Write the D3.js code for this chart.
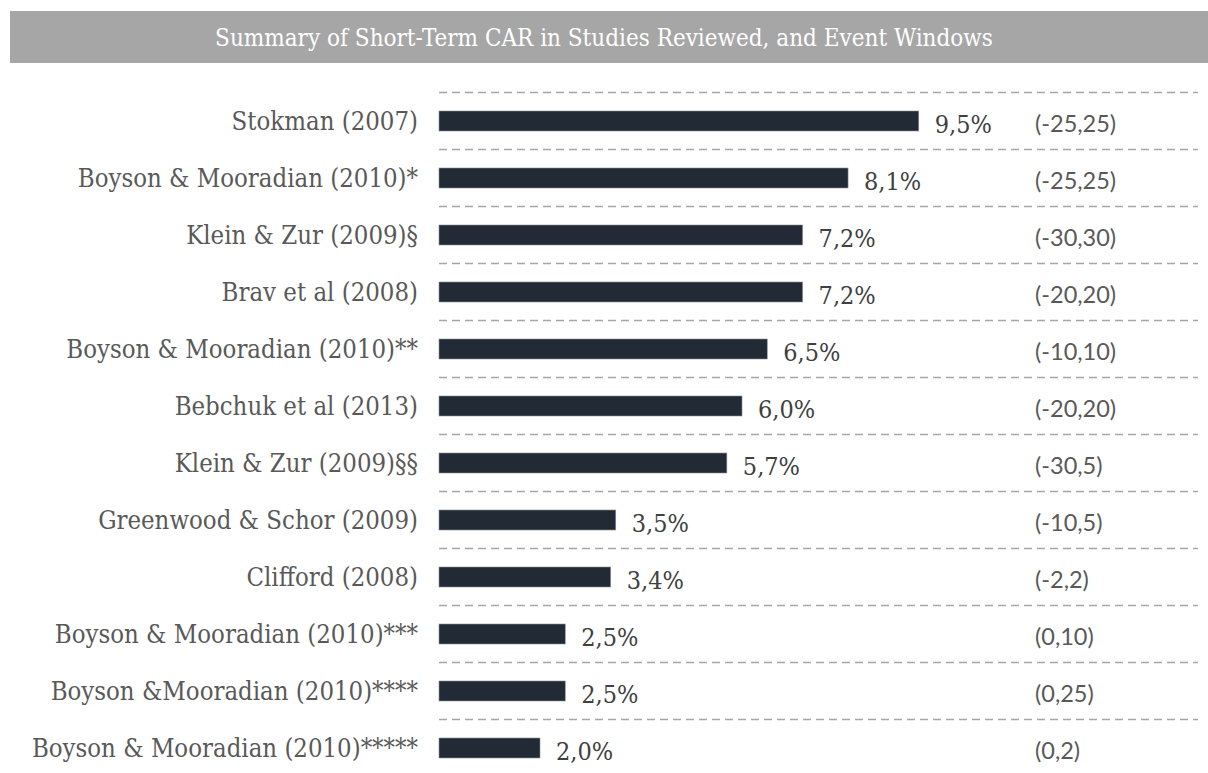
<!DOCTYPE html>
<html lang="en">
    <head>
        <meta charset="utf-8">
        <title>Summary of Short-Term CAR</title>
        <script type="text/javascript" src="https://d3js.org/d3.v7.min.js"></script>
        <style type="text/css">
            body { margin: 0; background: #fff; }
            .grid { stroke: #a6a6a6; stroke-width: 1.5; stroke-dasharray: 8,5; }
            .bar { fill: #222a35; stroke: #8a8f96; stroke-width: 0.6; }
            .serif { font-family: 'DejaVu Serif', serif; font-stretch: condensed; }
        </style>
    </head>
    <body>
        <div id="chart"></div>
        <script type="text/javascript">
            const studies = [
                "Stokman (2007)",
                "Boyson & Mooradian (2010)*",
                "Klein & Zur (2009)§",
                "Brav et al (2008)",
                "Boyson & Mooradian (2010)**",
                "Bebchuk et al (2013)",
                "Klein & Zur (2009)§§",
                "Greenwood & Schor (2009)",
                "Clifford (2008)",
                "Boyson & Mooradian (2010)***",
                "Boyson &Mooradian (2010)****",
                "Boyson & Mooradian (2010)*****"
            ];
            const car = [9.5, 8.1, 7.2, 7.2, 6.5, 6.0, 5.7, 3.5, 3.4, 2.5, 2.5, 2.0];
            const windows = ["(-25,25)", "(-25,25)", "(-30,30)", "(-20,20)", "(-10,10)", "(-20,20)",
                             "(-30,5)", "(-10,5)", "(-2,2)", "(0,10)", "(0,25)", "(0,2)"];
            const title = "Summary of Short-Term CAR in Studies Reviewed, and Event Windows";

            const W = 1208, H = 773;

            const svg = d3.select("#chart")
                .append("svg")
                .attr("width", W)
                .attr("height", H);

            // title band
            svg.append("rect")
                .attr("x", 10).attr("y", 11)
                .attr("width", W - 10).attr("height", 52)
                .attr("fill", "#a6a6a6");
            svg.append("text")
                .attr("class", "serif")
                .attr("x", 604).attr("y", 38)
                .attr("text-anchor", "middle")
                .attr("dominant-baseline", "central")
                .style("font-size", "24px")
                .attr("fill", "#fff")
                .text(title);

            const yScale = d3.scaleBand()
                .domain(studies)
                .range([92.5, 92.5 + 57 * studies.length]);
            const xScale = d3.scaleLinear()
                .domain([0, 10])
                .range([439, 944]);

            const rows = svg.append("g")
                .selectAll("g")
                .data(studies.map((s, i) => ({name: s, v: car[i], w: windows[i]})))
                .enter()
                .append("g")
                .attr("transform", d => "translate(0," + yScale(d.name) + ")");

            rows.append("line")
                .attr("class", "grid")
                .attr("x1", 439).attr("x2", 1198)
                .attr("y1", 0).attr("y2", 0);

            const mid = yScale.bandwidth() / 2;

            rows.append("rect")
                .attr("class", "bar")
                .attr("x", xScale(0))
                .attr("y", mid - 10)
                .attr("width", d => xScale(d.v) - xScale(0))
                .attr("height", 20);

            rows.append("text")
                .attr("class", "serif")
                .attr("x", 418)
                .attr("y", mid)
                .attr("text-anchor", "end")
                .attr("dominant-baseline", "central")
                .style("font-size", "25.5px")
                .attr("fill", "#595959")
                .text(d => d.name);

            rows.append("text")
                .attr("class", "serif")
                .attr("x", d => xScale(d.v) + 16)
                .attr("y", mid + 3)
                .attr("dominant-baseline", "central")
                .style("font-size", "25px")
                .attr("fill", "#404040")
                .text(d => d3.format(".1f")(d.v).replace(".", ",") + "%");

            rows.append("text")
                .attr("x", 1035)
                .attr("y", mid + 2)
                .attr("dominant-baseline", "central")
                .style("font-family", "Lato, 'Open Sans', sans-serif")
                .style("font-size", "23.5px")
                .attr("fill", "#595959")
                .text(d => d.w);
        </script>
    </body>
</html>
